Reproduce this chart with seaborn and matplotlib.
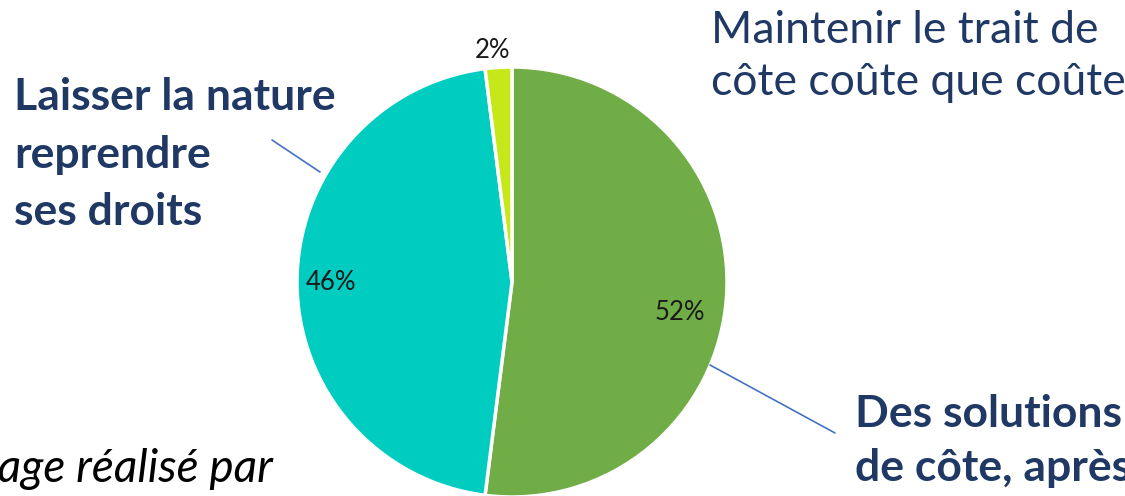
import matplotlib
matplotlib.use("Agg")
import matplotlib.pyplot as plt
import seaborn as sns

categories = ["Des solutions de côte, après", "Laisser la nature reprendre ses droits",
              "Maintenir le trait de côte coûte que coûte"]
values = [52, 46, 2]
colors = ["#70AD47", "#00CDC0", "#C6E81B"]
pct_labels = [f"{v}%" for v in values]

sns.set_style("white")
plt.rcParams['font.family'] = ['Lato', 'DejaVu Sans']

W, H = 1125, 496
fig = plt.figure(figsize=(W / 100, H / 100), dpi=100)
ax = fig.add_axes([0, 0, 1, 1])

cx, cy, r = 512, H - 282, 215
ax.pie(values, colors=colors, startangle=90, counterclock=False,
       center=(cx, cy), radius=r, frame=True,
       wedgeprops=dict(edgecolor="white", linewidth=2.5))
ax.set_xlim(0, W)
ax.set_ylim(0, H)
ax.set_aspect("equal")
ax.axis("off")

navy = "#1F3864"
# percent labels
pct_pos = [(680, H - 313), (331, H - 283), (493, H - 50)]
for (x, y), t in zip(pct_pos, pct_labels):
    ax.text(x, y, t, ha="center", va="center", fontsize=18.5, color="#1a1a1a")


def block(x, baselines, lines, **kw):
    for b, s in zip(baselines, lines):
        ax.text(x, H - b, s, ha="left", va="baseline", color=navy, **kw)


block(711, [43, 95], ["Maintenir le trait de", "côte coûte que coûte"], fontsize=32)
block(14, [110, 168, 225], ["Laisser la nature", "reprendre", "ses droits"],
      fontsize=32, fontweight="bold")
block(855, [427, 481], ["Des solutions", "de côte, après"],
      fontsize=32, fontweight="bold")
ax.text(273, H - 482, "Sondage réalisé par", ha="right", va="baseline",
        fontsize=33, color="black", style="italic")

line_c = "#4472C4"
ax.plot([272, 320], [H - 140, H - 172], color=line_c, lw=1.2)
ax.plot([710, 835], [H - 365, H - 433], color=line_c, lw=1.2)

fig.savefig("out.png", dpi=100)
